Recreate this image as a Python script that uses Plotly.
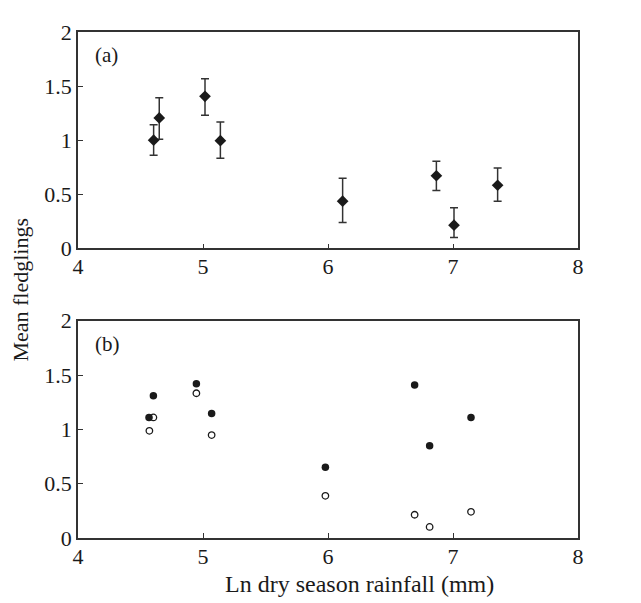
import plotly.graph_objects as go

# Panel (a): mean fledglings with error bars
a_x = [4.605, 4.65, 5.016, 5.139, 6.117, 6.867, 7.008, 7.357]
a_y = [1.0, 1.206, 1.405, 0.995, 0.436, 0.671, 0.214, 0.583]
a_upper = [1.143, 1.392, 1.567, 1.167, 0.647, 0.806, 0.376, 0.743]
a_lower = [0.86, 1.008, 1.23, 0.833, 0.238, 0.535, 0.099, 0.436]

# Panel (b): filled and open circles
b_x = [4.568, 4.603, 4.947, 5.069, 5.979, 6.693, 6.813, 7.144]
b_filled = [1.11, 1.308, 1.419, 1.146, 0.650, 1.408, 0.848, 1.110]
b_open_x = [4.571, 4.603, 4.947, 5.069, 5.979, 6.693, 6.813, 7.144]
b_open = [0.986, 1.110, 1.332, 0.947, 0.388, 0.214, 0.102, 0.241]

x_ticks = [4, 5, 6, 7, 8]
y_ticks = [0, 0.5, 1, 1.5, 2]
y_ticklabels = ["0", "0.5", "1", "1.5", "2"]

FONT = "Liberation Serif"
INK = "#1a1a1a"
FS = 22

fig = go.Figure()

fig.add_trace(go.Scatter(
    x=a_x, y=a_y, mode="markers",
    marker=dict(symbol="diamond", size=9, color=INK),
    error_y=dict(type="data", symmetric=False,
                 array=[u - y for u, y in zip(a_upper, a_y)],
                 arrayminus=[y - l for y, l in zip(a_y, a_lower)],
                 color="#333", thickness=1.5, width=4),
    xaxis="x", yaxis="y", showlegend=False))

fig.add_trace(go.Scatter(
    x=b_x, y=b_filled, mode="markers",
    marker=dict(symbol="circle", size=7.5, color=INK),
    xaxis="x2", yaxis="y2", showlegend=False))

fig.add_trace(go.Scatter(
    x=b_open_x, y=b_open, mode="markers",
    marker=dict(symbol="circle-open", size=6.5, color=INK, line=dict(width=1.3)),
    xaxis="x2", yaxis="y2", showlegend=False))

xcommon = dict(range=[4, 8], tickvals=x_ticks, ticktext=[str(v) for v in x_ticks],
               ticks="inside", ticklen=5, tickwidth=1.2, tickcolor="#333",
               showline=True, linecolor="#333", linewidth=1.5, mirror=True,
               showgrid=False, zeroline=False, ticklabelstandoff=-2,
               tickfont=dict(family=FONT, size=FS, color=INK))
ycommon = dict(range=[0, 2], tickvals=y_ticks, ticktext=y_ticklabels,
               ticks="inside", ticklen=5, tickwidth=1.2, tickcolor="#333",
               showline=True, linecolor="#333", linewidth=1.5, mirror=True,
               showgrid=False, zeroline=False,
               tickfont=dict(family=FONT, size=FS, color=INK))

fig.update_layout(
    width=641, height=603,
    margin=dict(l=70, r=71, t=13, b=73),
    paper_bgcolor="white", plot_bgcolor="white",
    xaxis=dict(domain=[0, 1], anchor="y", **xcommon),
    yaxis=dict(domain=[0.5725, 1], anchor="x", **ycommon),
    xaxis2=dict(domain=[0, 1], anchor="y2", **xcommon),
    yaxis2=dict(domain=[0, 0.4295], anchor="x2", **ycommon),
    annotations=[
        dict(text="(a)", x=0.03, y=0.954, xref="paper", yref="paper",
             xanchor="left", yanchor="middle", showarrow=False,
             font=dict(family=FONT, size=FS - 1, color=INK)),
        dict(text="(b)", x=0.03, y=0.383, xref="paper", yref="paper",
             xanchor="left", yanchor="middle", showarrow=False,
             font=dict(family=FONT, size=FS - 1, color=INK)),
        dict(text="Mean fledglings", x=-0.115, y=0.49, xref="paper", yref="paper",
             xanchor="center", yanchor="middle", textangle=-90, showarrow=False,
             font=dict(family=FONT, size=FS, color=INK)),
        dict(text="Ln dry season rainfall (mm)", x=0.562, y=-0.09, xref="paper", yref="paper",
             xanchor="center", yanchor="middle", showarrow=False,
             font=dict(family=FONT, size=24, color=INK)),
    ],
)

fig.write_html("out.html")
